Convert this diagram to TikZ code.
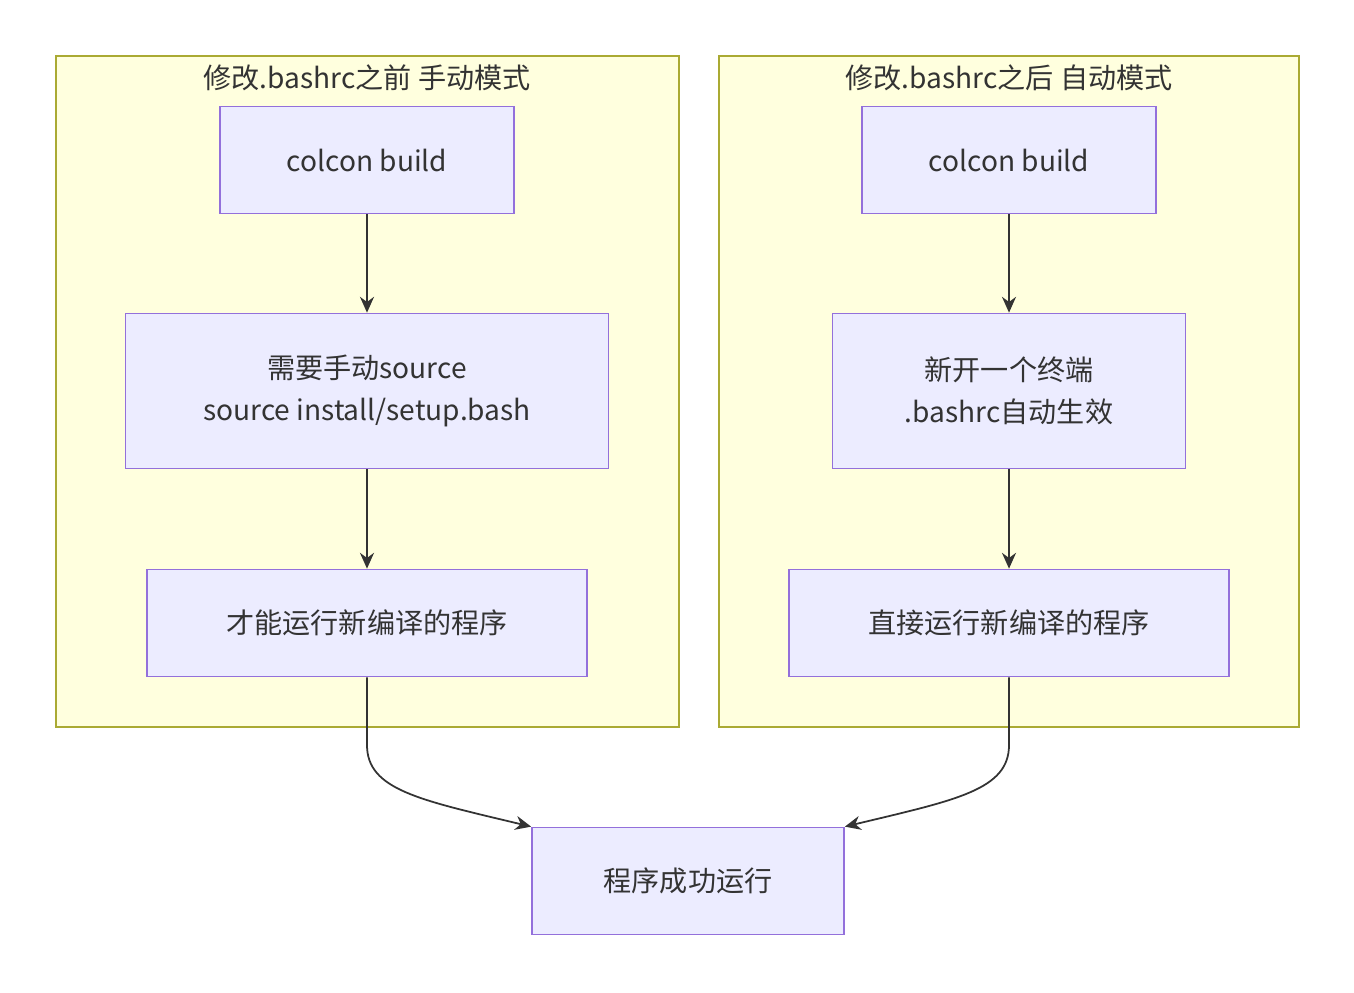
\documentclass[tikz,border=0pt]{standalone}
\usepackage{fontspec}
\setmainfont{Noto Sans CJK SC}
\usetikzlibrary{arrows.meta, positioning}
\definecolor{clusterfill}{HTML}{FFFFDE}
\definecolor{clusterdraw}{HTML}{AAAA33}
\definecolor{nodefill}{HTML}{ECECFF}
\definecolor{nodedraw}{HTML}{9370DB}
\definecolor{textcol}{HTML}{333333}
\tikzstyle{cluster} = [draw=clusterdraw, fill=clusterfill, line width=1pt]
\tikzstyle{block} = [rectangle, draw=nodedraw, fill=nodefill, line width=1pt, text=textcol, align=center, inner sep=0pt, font=\fontsize{16}{24}\selectfont]
\tikzstyle{title} = [text=textcol, font=\fontsize{16}{20}\selectfont]
\tikzstyle{arrow} = [line width=1pt, draw=textcol, -{Stealth[length=9pt,width=8pt]}]

\begin{document}
\begin{tikzpicture}[x=0.02cm, y=-0.02cm]
		\useasboundingbox (0,0) rectangle (1354,992);
		\draw [cluster] (56,56) rectangle (679,727);
		\draw [cluster] (719,56) rectangle (1299,727);
		\node (TitleBefore) [title] at (367,78) {修改.bashrc之前 手动模式};
		\node (TitleAfter) [title] at (1009,78) {修改.bashrc之后 自动模式};
		\node (BuildBefore) [block, minimum width=5.88cm, minimum height=2.14cm] at (367,160) {colcon build};
		\node (SourceManual) [block, minimum width=9.66cm, minimum height=3.1cm] at (367,391) {需要手动source\\source install/setup.bash};
		\node (RunBefore) [block, minimum width=8.8cm, minimum height=2.14cm] at (367,623) {才能运行新编译的程序};
		\node (BuildAfter) [block, minimum width=5.88cm, minimum height=2.14cm] at (1009,160) {colcon build};
		\node (NewTerminal) [block, minimum width=7.06cm, minimum height=3.1cm] at (1009,391) {新开一个终端\\.bashrc自动生效};
		\node (RunAfter) [block, minimum width=8.8cm, minimum height=2.14cm] at (1009,623) {直接运行新编译的程序};
		\node (Success) [block, minimum width=6.24cm, minimum height=2.14cm] at (688,881) {程序成功运行};
		\draw [arrow] (BuildBefore) -- (SourceManual);
		\draw [arrow] (SourceManual) -- (RunBefore);
		\draw [arrow] (BuildAfter) -- (NewTerminal);
		\draw [arrow] (NewTerminal) -- (RunAfter);
		\draw [arrow] (RunBefore.south) -- (367,745) .. controls (367,790) and (420,800) .. (Success.north west);
		\draw [arrow] (RunAfter.south) -- (1009,745) .. controls (1009,790) and (956,800) .. (Success.north east);
\end{tikzpicture}
\end{document}
